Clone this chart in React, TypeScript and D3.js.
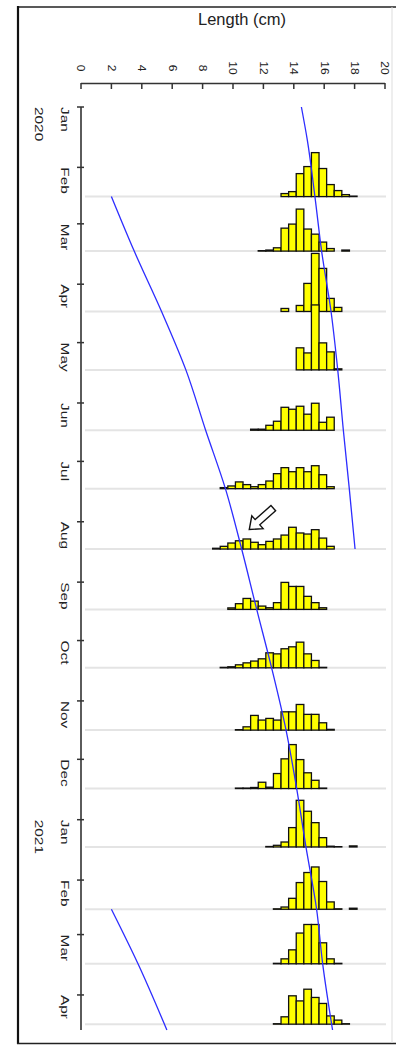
import React from 'react'
import * as d3 from 'd3'

const parse = d3.utcParse('%Y-%m-%d')

// sampling dates (one length-frequency histogram per month)
const sampleDates = [
  '2020-02-16', '2020-03-15', '2020-04-15', '2020-05-15', '2020-06-15',
  '2020-07-15', '2020-08-15', '2020-09-15', '2020-10-15', '2020-11-16',
  '2020-12-16', '2021-01-15', '2021-02-16', '2021-03-16', '2021-04-16',
]

// lower edge (cm) of the first 0.5 cm class of each histogram
const binStarts = [13.16, 11.66, 13.16, 14.16, 11.16, 9.16, 8.66, 9.66, 9.16, 10.16, 10.16, 12.16, 12.66, 12.66, 12.66]

// relative frequency (%) per 0.5 cm class
const feb20 = [2, 3.3, 15.3, 20, 29.3, 18.7, 8, 4, 1.3, 0.3]
const mar20 = [0.3, 0.7, 2.2, 15.3, 18, 28, 14.7, 11.3, 6, 1.7, 0, 0.7]
const apr20 = [2, 0, 4, 18.7, 38.7, 28.7, 8.7, 2.7]
const may20 = [14.7, 11.3, 43.3, 18, 12, 0.7]
const jun20 = [0.7, 0.7, 3.3, 6, 15.3, 14, 16, 10.7, 18, 5.3, 8.7]
const jul20 = [0.7, 1.8, 4.5, 2.7, 1.3, 2.7, 5.1, 10, 14, 11.3, 14, 11.3, 15.3, 9.3, 1.3]
const aug20 = [0.5, 1.8, 4, 5.5, 6.7, 4.5, 2.9, 5.1, 6.7, 9.3, 14.5, 10.7, 10, 12.9, 7.3, 1.8]
const sep20 = [1, 3.8, 7.3, 5.5, 2.2, 1.1, 4.5, 18, 15.3, 15.3, 8.7, 4.5, 1.1]
const oct20 = [0.3, 0.7, 2, 3.3, 4.5, 6, 10, 9.3, 12.7, 14, 17.1, 9.3, 4.9, 0.3]
const nov20 = [0.3, 2.2, 9.8, 6.7, 7.8, 6.7, 12.2, 12.2, 17.1, 10.5, 10.5, 4.9, 0.5]
const dec20 = [0.3, 0.3, 0.7, 4.2, 0.9, 10, 19.8, 29.3, 19.3, 10.5, 5.5, 0.3]
const jan21 = [0.3, 1.1, 3.3, 12.9, 31.1, 23.8, 16.2, 6.2, 0.5, 0.2, 0, 0.7]
const feb21 = [0.3, 1.5, 7.3, 17.8, 24.5, 28.2, 18.5, 4.9, 0.3, 0, 0.7]
const mar21 = [0.3, 3.3, 9.3, 20.5, 26.2, 26.2, 14, 3.3, 0.3]
const apr21 = [0.3, 4.9, 18.9, 15.5, 23.3, 17.8, 13.8, 5.5, 2.7, 0.3]

const freqs = [feb20, mar20, apr20, may20, jun20, jul20, aug20, sep20, oct20, nov20, dec20, jan21, feb21, mar21, apr21]

// growth curves of the cohorts
const cohortADates = ['2020-01-01', '2020-01-18', '2020-02-16', '2020-03-15', '2020-04-15', '2020-05-15', '2020-06-15', '2020-07-15', '2020-08-15']
const cohortALen = [14.5, 14.89, 15.39, 15.83, 16.45, 16.89, 17.26, 17.65, 18.03]

const cohortBDates = ['2020-02-16', '2020-03-15', '2020-04-15', '2020-05-15', '2020-06-15', '2020-07-15', '2020-08-15', '2020-09-15', '2020-10-15', '2020-11-16', '2020-12-16', '2021-01-15', '2021-02-16', '2021-03-16', '2021-04-19']
const cohortBLen = [2.0, 3.5, 5.3, 6.9, 8.2, 9.5, 10.57, 11.56, 12.54, 13.49, 14.19, 14.8, 15.5, 15.9, 16.55]

const cohortCDates = ['2021-02-16', '2021-03-16', '2021-04-19']
const cohortCLen = [2.0, 3.75, 5.65]

const lengthTicks = d3.range(0, 21, 2)

// annotation arrow (tail -> tip)
const arrowFrom = { date: '2020-07-25', len: 12.65 }
const arrowTo = { date: '2020-08-05', len: 11.07 }

const BIN = 0.5
const font = '"Liberation Sans", Arial, sans-serif'

export default function App() {
  const x = d3.scaleLinear().domain([0, 20]).range([81, 385])
  const y = d3.scaleUtc()
    .domain([parse('2020-01-01')!, parse('2021-04-19')!])
    .range([107, 1030])
  const h = d3.scaleLinear().domain([0, 100]).range([0, 150])

  const months = y.ticks(d3.utcMonth.every(1)!)
  const fmt = d3.utcFormat('%b')

  const line = d3.line<[string, number]>()
    .x(d => x(d[1]))
    .y(d => y(parse(d[0])!))
    .curve(d3.curveMonotoneY)

  const curves = [
    d3.zip(cohortADates, cohortALen),
    d3.zip(cohortBDates, cohortBLen),
    d3.zip(cohortCDates, cohortCLen),
  ] as [string, number][][]

  // arrow polygon
  const ax0 = x(arrowFrom.len), ay0 = y(parse(arrowFrom.date)!)
  const ax1 = x(arrowTo.len), ay1 = y(parse(arrowTo.date)!)
  const aLen = Math.hypot(ax1 - ax0, ay1 - ay0)
  const aAng = Math.atan2(ay1 - ay0, ax1 - ax0) * 180 / Math.PI
  const hl = 11, hw = 8.5, sw = 3.5
  const arrowPts = [[0, -sw], [aLen - hl, -sw], [aLen - hl, -hw], [aLen, 0], [aLen - hl, hw], [aLen - hl, sw], [0, sw]]
    .map(p => p.join(',')).join(' ')

  const rot = (px: number, py: number, k: number) => `translate(${px},${py}) scale(1,${k}) rotate(90)`

  return (
    <svg width={396} height={1046} style={{ position: 'absolute', left: 0, top: 0, background: '#fff' }}>
      <rect x={0} y={0} width={396} height={1046} fill="#fff" />
      {/* frame */}
      <line x1={17} x2={396} y1={7} y2={7} stroke="#222" strokeWidth={1.5} />
      <line x1={18} x2={18} y1={6} y2={1044} stroke="#111" strokeWidth={2.2} />
      <line x1={17} x2={396} y1={1043.5} y2={1043.5} stroke="#222" strokeWidth={1.5} />
      <line x1={392} x2={392} y1={7} y2={1043} stroke="#ddd" strokeWidth={1} />

      <text x={242} y={25} textAnchor="middle" fontFamily={font} fontSize={16.5} fill="#222">Length (cm)</text>

      {/* length axis */}
      <line x1={x(0)} x2={x(20)} y1={83.5} y2={83.5} stroke="#333" strokeWidth={1.5} />
      {lengthTicks.map(t => (
        <g key={t}>
          <line x1={x(t)} x2={x(t)} y1={83} y2={89} stroke="#333" strokeWidth={1.5} />
          <text transform={rot(x(t), 68, 1.2)} textAnchor="middle" dy="0.35em" fontFamily={font} fontSize={10} fill="#222">{t}</text>
        </g>
      ))}

      {/* time axis */}
      <line x1={81} x2={81} y1={y.range()[0]} y2={y.range()[1]} stroke="#333" strokeWidth={1.6} />
      {months.map(m => (
        <g key={m.toISOString()}>
          <line x1={77} x2={84} y1={y(m)} y2={y(m)} stroke="#333" strokeWidth={1.5} />
          <text transform={rot(65, y(m), 1.4)} textAnchor="start" dy="0.35em" fontFamily={font} fontSize={11} fill="#222">{fmt(m)}</text>
          {m.getUTCMonth() === 0 && (
            <text transform={rot(39, y(m), 1.4)} textAnchor="start" dy="0.35em" fontFamily={font} fontSize={11} fill="#222">{m.getUTCFullYear()}</text>
          )}
        </g>
      ))}

      {/* sample baselines */}
      {sampleDates.map(d => (
        <line key={d} x1={85} x2={386} y1={y(parse(d)!)} y2={y(parse(d)!)} stroke="#e4e4e4" strokeWidth={2} />
      ))}

      {/* histograms */}
      {sampleDates.map((d, i) => {
        const base = y(parse(d)!)
        return (
          <g key={'h' + d}>
            {freqs[i].map((f, j) => f > 0 && (
              <rect key={j}
                x={x(binStarts[i] + j * BIN)} width={x(BIN) - x(0)}
                y={base - h(f)} height={h(f)}
                fill="#ffff00" stroke="#111" strokeWidth={1.3} />
            ))}
          </g>
        )
      })}

      {/* growth curves */}
      {curves.map((c, i) => (
        <path key={i} d={line(c) ?? ''} fill="none" stroke="#2d2dff" strokeWidth={1.3} />
      ))}

      {/* arrow */}
      <polygon points={arrowPts} transform={`translate(${ax0},${ay0}) rotate(${aAng})`} fill="#fff" stroke="#111" strokeWidth={1.4} strokeLinejoin="miter" />
    </svg>
  )
}
